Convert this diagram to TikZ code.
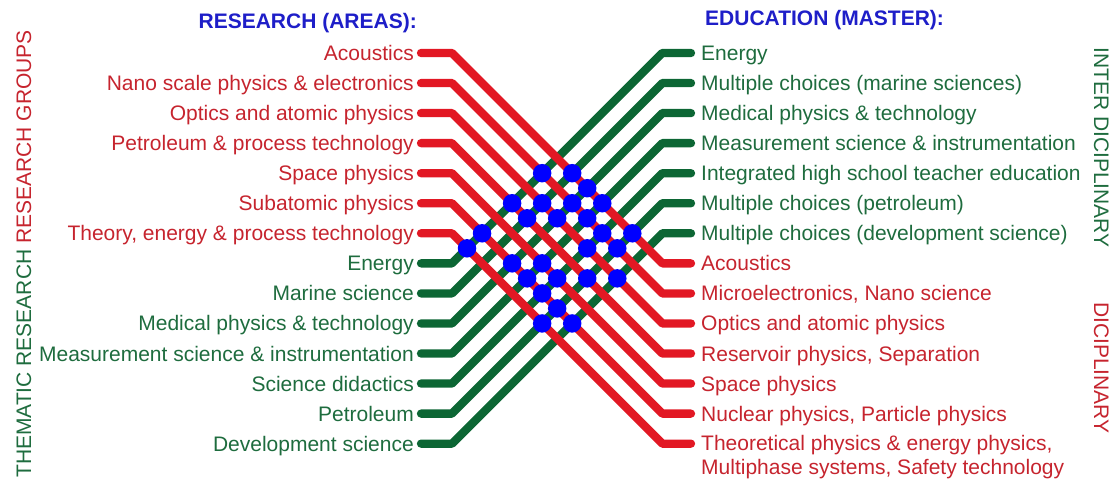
\documentclass[tikz,border=0pt]{standalone}
\usepackage{fontspec}
\setmainfont{Liberation Sans}
\definecolor{redline}{RGB}{226,24,36}
\definecolor{redtext}{RGB}{198,36,46}
\definecolor{greenline}{RGB}{12,102,52}
\definecolor{greentext}{RGB}{30,108,62}
\definecolor{headblue}{RGB}{30,30,200}
\definecolor{dotblue}{RGB}{0,0,255}
\newcommand{\fsz}{\fontsize{21}{24}\selectfont}
\begin{document}
\begin{tikzpicture}[x=1pt,y=-1pt,
  every node/.style={font=\fsz, inner sep=0pt},
  leftred/.style={anchor=base east, text=redtext},
  leftgreen/.style={anchor=base east, text=greentext},
  rightred/.style={anchor=base west, text=redtext},
  rightgreen/.style={anchor=base west, text=greentext},
  head/.style={font=\fsz\bfseries, text=headblue},
  wire/.style={line width=8.3pt, line cap=round, line join=round},
  redwire/.style={wire, draw=redline},
  greenwire/.style={wire, draw=greenline},
  dot/.style={circle, fill=dotblue, minimum size=18.5pt, inner sep=0pt}]
\useasboundingbox (0,0) rectangle (1110,481);

% row anchor points
\foreach \k in {0,...,13}{
  \pgfmathsetmacro\yy{53+30.05*\k}
  \coordinate (L\k) at (421,\yy);
  \coordinate (LC\k) at (452,\yy);
  \coordinate (RC\k) at (662.35,\yy);
  \coordinate (R\k) at (691,\yy);
}

% headings
\node[head, anchor=base east] (hl) at (417,29) {RESEARCH (AREAS):};
\node[head, anchor=base west] (hr) at (705,26) {EDUCATION (MASTER):};

% left labels
\foreach \t [count=\c from 0] in {Acoustics,
  Nano scale physics \& electronics,
  Optics and atomic physics,
  Petroleum \& process technology,
  Space physics,
  Subatomic physics,
  {Theory, energy \& process technology}}{
  \pgfmathsetmacro\yy{53+30.05*\c+7.5}
  \node[leftred] (ll\c) at (414,\yy) {\t};
}
\foreach \t [count=\c from 7] in {Energy,
  Marine science,
  Medical physics \& technology,
  Measurement science \& instrumentation,
  Science didactics,
  Petroleum,
  Development science}{
  \pgfmathsetmacro\yy{53+30.05*\c+7.5}
  \node[leftgreen] (ll\c) at (414,\yy) {\t};
}

% right labels
\foreach \t [count=\c from 0] in {Energy,
  Multiple choices (marine sciences),
  Medical physics \& technology,
  Measurement science \& instrumentation,
  Integrated high school teacher education,
  Multiple choices (petroleum),
  Multiple choices (development science)}{
  \pgfmathsetmacro\yy{53+30.05*\c+7.5}
  \node[rightgreen] (rl\c) at (701,\yy) {\t};
}
\foreach \t [count=\c from 7] in {Acoustics,
  {Microelectronics, Nano science},
  Optics and atomic physics,
  {Reservoir physics, Separation},
  Space physics,
  {Nuclear physics, Particle physics}}{
  \pgfmathsetmacro\yy{53+30.05*\c+7.5}
  \node[rightred] (rl\c) at (701,\yy) {\t};
}
\node[rightred, align=left] (rl13) at (701,{53+30.05*13+7.5+23.5})
  {Theoretical physics \& energy physics,\\Multiphase systems, Safety technology};

% side titles
\node[rotate=90, anchor=base west] (sideL) at (31,478)
  {\color{greentext}THEMATIC RESEARCH \color{redtext}RESEARCH GROUPS};
\node[rotate=-90, anchor=base west, text=greentext] (sideR1) at (1094,47) {INTER DICIPLINARY};
\node[rotate=-90, anchor=base west, text=redtext] (sideR2) at (1094,302) {DICIPLINARY};

% green wires: left row 7+j -> right row j
\foreach \j in {0,...,6}{
  \pgfmathtruncatemacro\k{\j+7}
  \draw[greenwire] (L\k) -- (LC\k) -- (RC\j) -- (R\j);
}
% red wires: left row i -> right row 7+i
\foreach \i in {0,...,6}{
  \pgfmathtruncatemacro\k{\i+7}
  \draw[redwire] (L\i) -- (LC\i) -- (RC\k) -- (R\k);
}

% crossing dots (red i, green j)
\foreach \i/\j in {1/0,0/1,0/2,3/0,2/1,1/2,0/3,3/1,2/2,1/3,5/0,1/4,0/5,6/0,2/4,1/5,
                   5/2,4/3,5/3,4/4,3/5,2/6,5/4,5/5,6/5,5/6}{
  \pgfmathsetmacro\tt{(210.35+30.05*(\j-\i))/2}
  \pgfmathsetmacro\dx{452+\tt}
  \pgfmathsetmacro\dy{53+30.05*\i+\tt}
  \node[dot] (d\i\j) at (\dx,\dy) {};
}
\end{tikzpicture}
\end{document}
